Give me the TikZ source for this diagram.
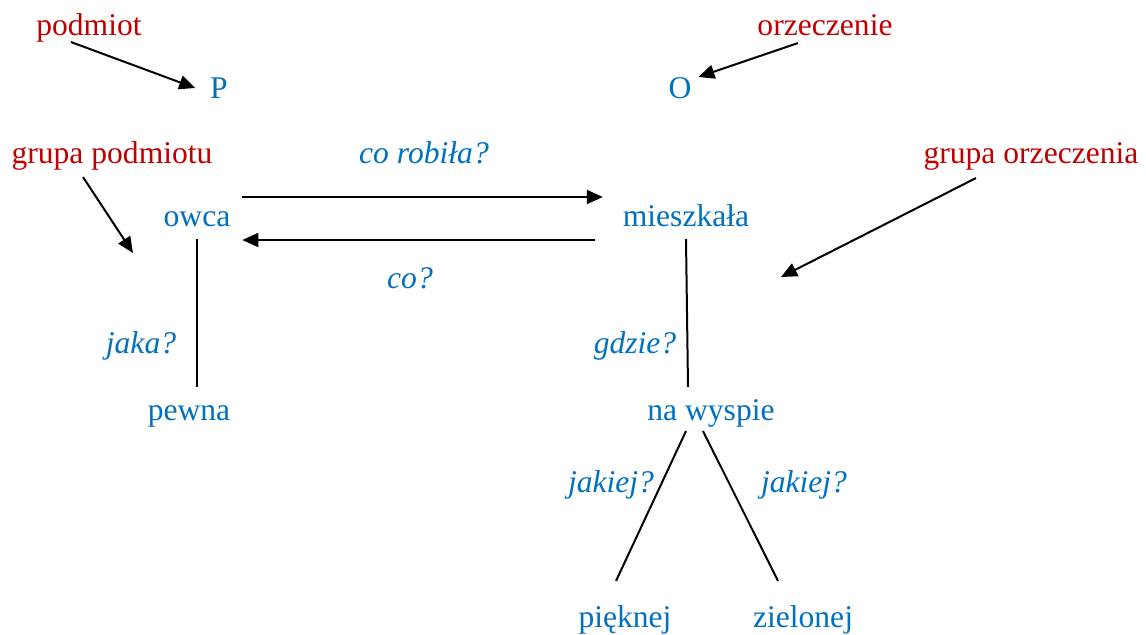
\documentclass[tikz,border=0pt]{standalone}
\usepackage{fontspec}
\setmainfont{Liberation Serif}
\usetikzlibrary{arrows.meta,calc}
\definecolor{wordblue}{HTML}{0070C0}
\definecolor{namered}{HTML}{C00000}
\begin{document}
\begin{tikzpicture}[x=0.5pt, y=-0.5pt, line width=1pt,
  word node/.style={text=wordblue,inner sep=4.5pt,text height=1.5ex,text depth=.25ex},
  name node/.style={word node,text=namered},
  ask node/.style={word node,font=\fontsize{15.8}{19}\selectfont\itshape},
  arr/.style={-{Triangle[length=8pt,width=7pt]}}]
\useasboundingbox (0,0) rectangle (1146,634);
\begin{scope}[every node/.style={font=\fontsize{15.8}{19}\selectfont}]
\node[name node] (podmiot) at (89,30) {podmiot};
\node[name node] (orzecz) at (825,30) {orzeczenie};
\node[name node] (gpod) at (112,158) {grupa podmiotu};
\node[name node] (gorz) at (1031,158) {grupa orzeczenia};
\node[word node] (P) at (219,93) {P};
\node[word node] (O) at (680,93) {O};
\node[word node] (owca) at (197,221) {owca};
\node[word node] (mieszkala) at (686,221) {mieszkała};
\node[word node] (pewna) at (189,415) {pewna};
\node[word node] (wyspa) at (711,415) {na wyspie};
\node[word node] (piekne) at (625,622) {pięknej};
\node[word node] (zielone) at (803,622) {zielonej};
\node[ask node] (qrobila) at (424,158) {co robiła?};
\node[ask node] (qco) at (410,283) {co?};
\node[ask node] (qjaka) at (141,348) {jaka?};
\node[ask node] (qgdzie) at (635,348) {gdzie?};
\node[ask node] (qjakiejA) at (611,487) {jakiej?};
\node[ask node] (qjakiejB) at (804,487) {jakiej?};
\end{scope}
\coordinate (gpodend) at (133,253);
\coordinate (gorzend) at (781,277);
\begin{scope}[every path/.style={draw=black}]
\draw[arr] ($(podmiot.south)+(-18,-6)$) -- ($(P.west)+(-5,-5)$);
\draw[arr] ($(orzecz.south)+(-27,-5)$) -- ($(O.north east)+(-3,2)$);
\draw[arr] ($(gpod.south)+(-29,1)$) -- (gpodend);
\draw[arr] ($(gorz.south)+(-55,2)$) -- (gorzend);
\draw[arr] ($(owca.east)+(2,-24)$) -- ($(mieszkala.west)+(-10,-24)$);
\draw[arr] ($(mieszkala.west)+(-18,19)$) -- ($(owca.east)+(2,19)$);
\draw (owca.south) -- ($(owca.south |- pewna.north)+(0,-10)$);
\draw (mieszkala.south) -- ($(wyspa.north)+(-23,-10)$);
\draw ($(wyspa.south)+(-25,-2)$) -- ($(piekne.north)+(-9,-23)$);
\draw ($(wyspa.south)+(-8,-2)$) -- ($(zielone.north)+(-25,-23)$);
\end{scope}
\end{tikzpicture}
\end{document}
